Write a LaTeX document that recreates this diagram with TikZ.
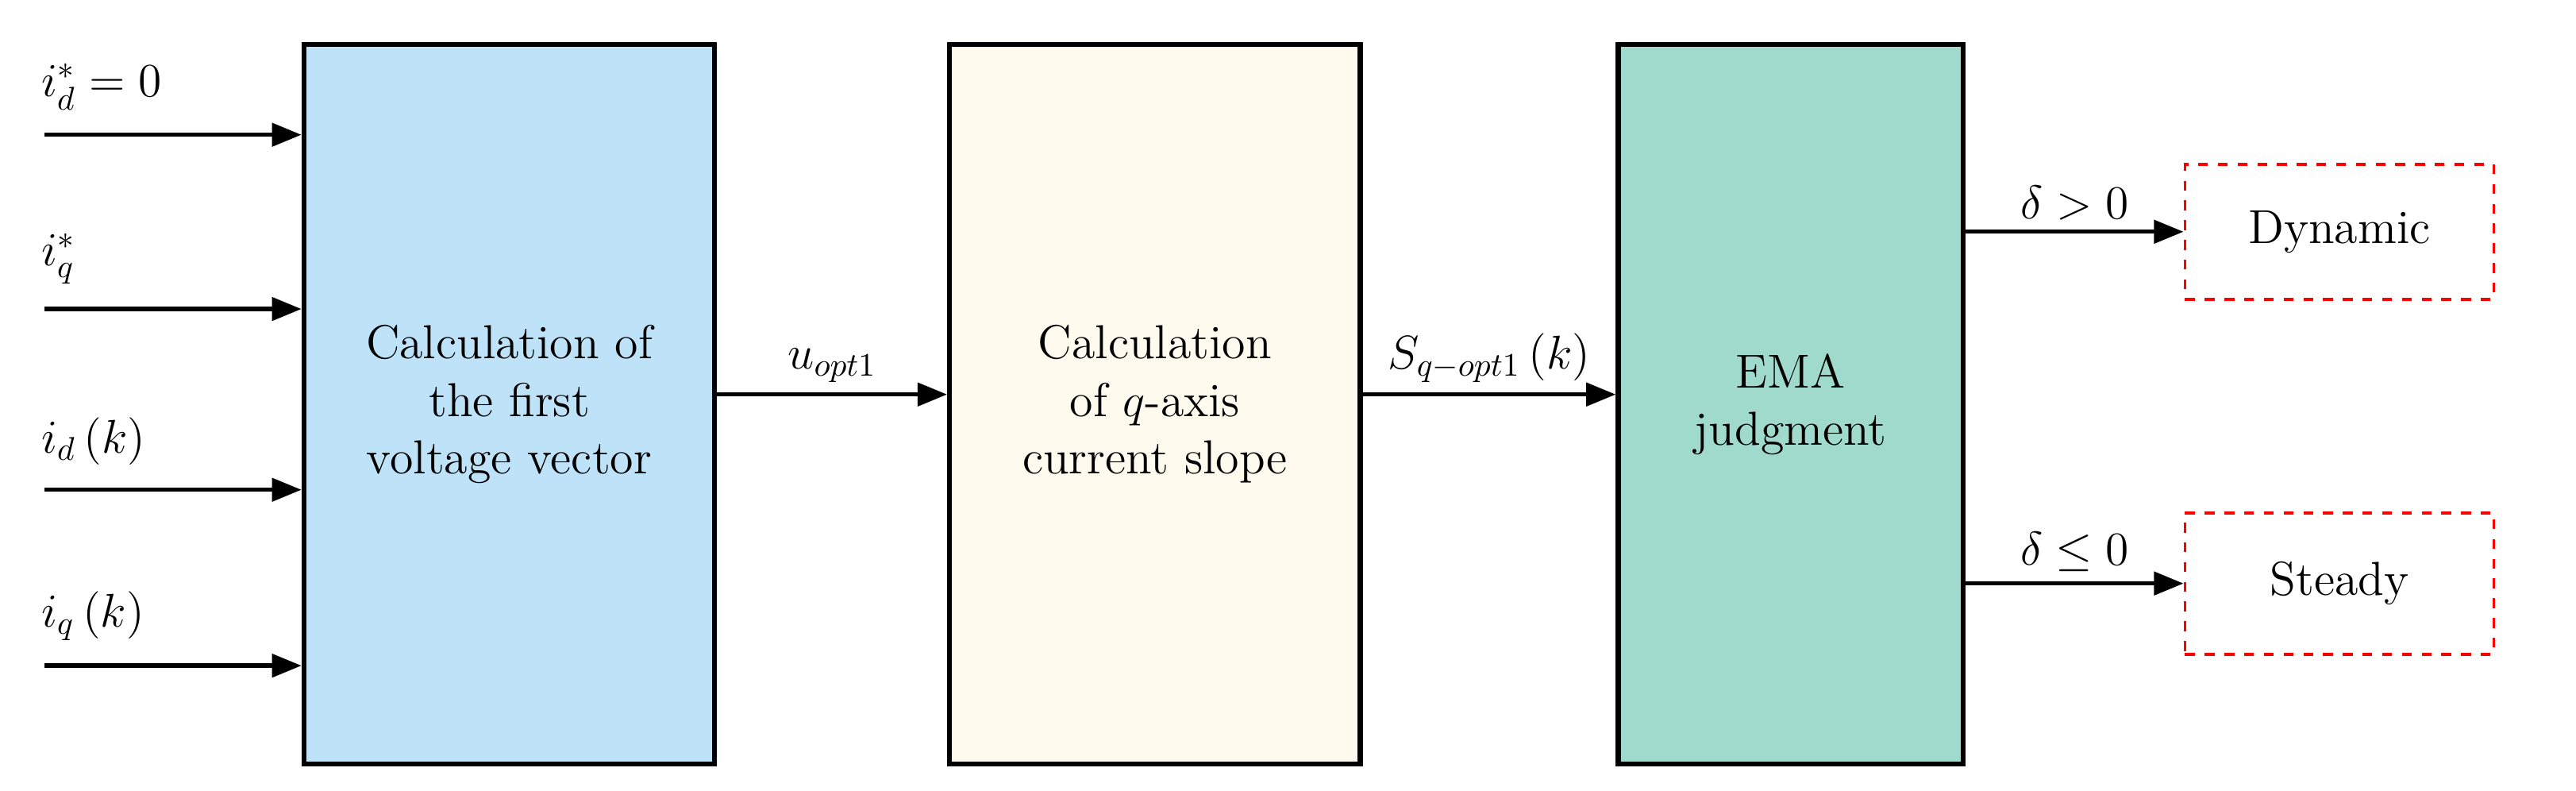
\documentclass[tikz,border=0pt]{standalone}
\usepackage{amsmath}
\usetikzlibrary{arrows.meta}
\definecolor{calcblue}{RGB}{190,227,248}
\definecolor{calccream}{RGB}{254,250,238}
\definecolor{emagreen}{RGB}{160,218,205}
\tikzset{every picture/.style={line width=1.2pt}}
\tikzset{
  blk/.style={draw, line width=1.5pt, inner sep=0pt, font=\fontsize{14.5}{17.5}\selectfont, align=center},
  outbox/.style={draw=red, dashed, line width=0.9pt, font=\fontsize{14.5}{17.5}\selectfont},
  sig/.style={-{Triangle[length=9pt,width=7pt]}, line width=1.3pt},
  lbl/.style={font=\fontsize{14.5}{17.5}\selectfont, inner sep=1pt}
}
\begin{document}
\begin{tikzpicture}[x=0.5pt,y=-0.5pt]
\useasboundingbox (0,0) rectangle (1568,481);

% blocks
\node[blk, fill=calcblue, minimum width=125pt, minimum height=219pt] (calc1) at (310,246) {Calculation of\\the first\\voltage vector};
\node[blk, fill=calccream, minimum width=125pt, minimum height=219pt] (calc2) at (703,246) {Calculation\\of $q$-axis\\current slope};
\node[blk, fill=emagreen, minimum width=105pt, minimum height=219pt] (ema) at (1090,246) {EMA\\judgment};
\node[outbox, minimum width=94pt, minimum height=41pt] (dyn) at (1424,141) {Dynamic};
\node[outbox, minimum width=94pt, minimum height=43pt] (std) at (1424,355) {Steady};

% inputs
\foreach \y/\name in {82/in1,188/in2,298/in3,405/in4}
  \coordinate (\name) at (27,\y);
\draw[sig] (in1) -- (in1 -| calc1.west);
\draw[sig] (in2) -- (in2 -| calc1.west);
\draw[sig] (in3) -- (in3 -| calc1.west);
\draw[sig] (in4) -- (in4 -| calc1.west);
\node[lbl, anchor=south west] at (22,70) {$i_d^{*}=0$};
\node[lbl, anchor=south west] at (22,176) {$i_q^{*}$};
\node[lbl, anchor=south west] at (22,286) {$i_d\left(k\right)$};
\node[lbl, anchor=south west] at (22,393) {$i_q\left(k\right)$};

% links
\draw[sig] (calc1.east |- 0,240) -- (calc2.west |- 0,240) node[lbl, midway, above=2pt] {$u_{opt1}$};
\draw[sig] (calc2.east |- 0,240) -- (ema.west |- 0,240) node[lbl, midway, above=2pt] {$S_{q-opt1}\left(k\right)$};

% outputs
\draw[sig] (ema.east |- dyn) -- (dyn.west) node[lbl, midway, above=2pt] {$\delta>0$};
\draw[sig] (ema.east |- std) -- (std.west) node[lbl, midway, above=2pt] {$\delta\le 0$};
\end{tikzpicture}
\end{document}
